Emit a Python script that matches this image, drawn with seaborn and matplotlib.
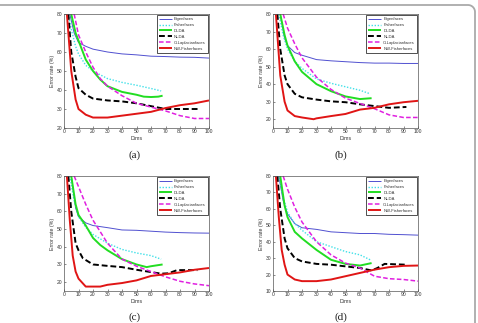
import numpy as np
import pandas as pd
import matplotlib
matplotlib.use("Agg")
import matplotlib.pyplot as plt
import seaborn as sns
from matplotlib.lines import Line2D

methods = ["Eigenfaces", "Fisherfaces", "DLDA", "NLDA", "O-Laplacianfaces", "NW-Fisherfaces"]
captions = ["(a)", "(b)", "(c)", "(d)"]
ylims = [(20, 80), (15, 80), (15, 80), (10, 80)]
yticks = [[20, 30, 40, 50, 60, 70, 80], [20, 30, 40, 50, 60, 70, 80],
          [20, 30, 40, 50, 60, 70, 80], [10, 20, 30, 40, 50, 60, 70, 80]]
xticks = [0, 10, 20, 30, 40, 50, 60, 70, 80, 90, 100]

# ---- panel (a)
a_eigen_x = [4, 7, 10, 15, 20, 30, 40, 50, 60, 70, 80, 90, 100]
a_eigen_y = [80, 70, 65, 63, 61.5, 60, 59, 58.5, 57.8, 57.6, 57.3, 57.2, 56.8]
a_fisher_x = [3, 5, 8, 10, 15, 20, 30, 40, 50, 60, 67]
a_fisher_y = [80, 72, 63, 59, 53, 50, 46, 44, 42.5, 40.8, 39.5]
a_dlda_x = [5, 8, 10, 15, 20, 25, 30, 40, 50, 55, 60, 65, 68]
a_dlda_y = [80, 70, 66, 56, 50, 45.5, 42, 39, 37.5, 36.5, 36.3, 36.5, 37]
a_nlda_x = [3, 5, 8, 10, 15, 20, 30, 40, 50, 60, 70, 80, 93]
a_nlda_y = [80, 60, 47, 41, 37.5, 35.5, 34.5, 34, 33, 31.5, 30, 30, 30]
a_olap_x = [7, 10, 15, 20, 25, 30, 40, 50, 60, 70, 80, 90, 100]
a_olap_y = [80, 69, 60, 52, 46, 42, 37, 33, 31, 29, 26.5, 25, 25]
a_nw_x = [2, 5, 8, 10, 15, 20, 25, 30, 40, 50, 60, 70, 80, 90, 100]
a_nw_y = [80, 50, 35, 30, 27, 25.5, 25.5, 25.5, 26.5, 27.5, 28.5, 30.5, 32, 33, 34.5]

# ---- panel (b)
b_eigen_x = [5, 8, 10, 15, 20, 30, 40, 50, 60, 70, 80, 90, 100]
b_eigen_y = [80, 66, 62, 58, 56.5, 54, 53.3, 52.8, 52.3, 52, 52, 51.8, 51.8]
b_fisher_x = [4, 7, 10, 15, 20, 30, 40, 50, 60, 67]
b_fisher_y = [80, 68, 60, 53, 49, 43, 40.5, 38.5, 36.5, 34.5]
b_dlda_x = [5, 8, 10, 15, 20, 30, 40, 50, 60, 68]
b_dlda_y = [80, 68, 62, 53, 47, 40, 36, 33, 31.5, 32]
b_nlda_x = [3, 5, 8, 10, 15, 20, 30, 40, 50, 60, 70, 80, 92]
b_nlda_y = [80, 60, 45, 40, 34.5, 32.5, 31.2, 30.2, 29.7, 28.5, 27.5, 26.5, 27]
b_olap_x = [7, 10, 15, 20, 30, 40, 50, 60, 70, 80, 90, 100]
b_olap_y = [80, 72, 63, 55, 44, 37, 32, 29, 26, 22.5, 21, 21]
b_nw_x = [2, 5, 8, 10, 15, 20, 28, 30, 40, 50, 60, 70, 80, 90, 100]
b_nw_y = [80, 45, 30, 25, 21.8, 21, 20, 20.5, 21.8, 23, 25.5, 26.5, 28.5, 29.7, 30.5]

# ---- panel (c)
c_eigen_x = [5, 8, 10, 15, 20, 30, 40, 50, 60, 70, 80, 90, 100]
c_eigen_y = [80, 62, 57, 53.5, 52, 50.8, 49.5, 49.3, 48.8, 48.3, 48, 47.8, 47.7]
c_fisher_x = [4, 7, 10, 15, 20, 30, 40, 50, 60, 67]
c_fisher_y = [80, 66, 57, 51, 47, 42, 38.5, 36.5, 35, 33]
c_dlda_x = [5, 8, 10, 15, 20, 25, 30, 40, 50, 57, 60, 68]
c_dlda_y = [80, 64, 58, 52, 45, 41, 38, 33, 30, 28.5, 29, 30]
c_nlda_x = [3, 5, 8, 10, 13, 20, 30, 40, 50, 60, 67, 72, 78, 92]
c_nlda_y = [80, 60, 42, 38, 33.5, 30, 29.2, 28.5, 27, 25.7, 24.8, 25, 26.8, 26.8]
c_olap_x = [7, 10, 15, 20, 30, 40, 50, 60, 70, 80, 90, 100]
c_olap_y = [80, 74, 64, 55, 42, 33, 29, 26, 23, 20.5, 19, 18]
c_nw_x = [2, 4, 6, 8, 10, 15, 20, 25, 30, 40, 50, 60, 70, 80, 90, 100]
c_nw_y = [80, 55, 35, 26, 22, 17.5, 17.5, 17.5, 18.5, 19.5, 21, 23.5, 24.5, 25.5, 27, 28]

# ---- panel (d)
d_eigen_x = [4, 7, 10, 15, 20, 30, 40, 50, 60, 70, 80, 90, 100]
d_eigen_y = [80, 65, 57, 51, 48.5, 47.5, 46, 45.5, 45, 45, 44.5, 44.3, 44]
d_fisher_x = [4, 7, 10, 15, 20, 30, 40, 50, 60, 67]
d_fisher_y = [80, 67, 58, 51, 47, 40, 37, 34, 32, 29]
d_dlda_x = [5, 8, 10, 15, 20, 30, 35, 40, 50, 60, 68]
d_dlda_y = [80, 62, 55, 46, 42, 35, 32, 29, 26.5, 25.5, 27]
d_nlda_x = [3, 5, 8, 10, 15, 20, 30, 40, 50, 60, 68, 72, 77, 92]
d_nlda_y = [80, 60, 42, 36, 30, 28, 26.5, 26, 25, 24, 22.5, 24, 26.5, 26]
d_olap_x = [7, 10, 15, 20, 30, 40, 50, 60, 70, 80, 90, 100]
d_olap_y = [80, 72, 61, 52, 40, 32, 27, 24, 19, 17.5, 17, 16]
d_nw_x = [2, 4, 6, 8, 10, 15, 20, 30, 40, 50, 60, 70, 80, 90, 100]
d_nw_y = [80, 55, 35, 26, 20, 17, 16, 16, 17, 19, 21, 23, 24.5, 25.3, 25.5]

panels = [
    [(a_eigen_x, a_eigen_y), (a_fisher_x, a_fisher_y), (a_dlda_x, a_dlda_y),
     (a_nlda_x, a_nlda_y), (a_olap_x, a_olap_y), (a_nw_x, a_nw_y)],
    [(b_eigen_x, b_eigen_y), (b_fisher_x, b_fisher_y), (b_dlda_x, b_dlda_y),
     (b_nlda_x, b_nlda_y), (b_olap_x, b_olap_y), (b_nw_x, b_nw_y)],
    [(c_eigen_x, c_eigen_y), (c_fisher_x, c_fisher_y), (c_dlda_x, c_dlda_y),
     (c_nlda_x, c_nlda_y), (c_olap_x, c_olap_y), (c_nw_x, c_nw_y)],
    [(d_eigen_x, d_eigen_y), (d_fisher_x, d_fisher_y), (d_dlda_x, d_dlda_y),
     (d_nlda_x, d_nlda_y), (d_olap_x, d_olap_y), (d_nw_x, d_nw_y)],
]

colors = ["#5050d0", "#40e0e8", "#22dd22", "#000000", "#e020e0", "#e01515"]
styles = [(0, ()), (0, (1, 1.2)), (0, ()), (0, (3, 1.5)), (0, (3, 1.5)), (0, ())]
widths = [0.7, 1.0, 1.4, 1.4, 1.1, 1.4]

sns.set_style("white")
plt.rcParams['font.family'] = ['Liberation Sans', 'DejaVu Sans']
fig = plt.figure(figsize=(4.78, 3.23), dpi=100)
W, H = 478.0, 323.0

boxes = [(64, 14, 209, 128), (273, 14, 418, 128), (64, 176, 209, 291), (273, 176, 418, 291)]
cap_pos = [(135, 155), (341, 155), (135, 317), (341, 317)]

for i, (l, t, r, b) in enumerate(boxes):
    ax = fig.add_axes([l / W, 1 - b / H, (r - l) / W, (b - t) / H])
    for j, (xs, ys) in enumerate(panels[i]):
        df = pd.DataFrame({"Dims": xs, "err": ys})
        sns.lineplot(data=df, x="Dims", y="err", ax=ax, color=colors[j],
                     linestyle=styles[j], linewidth=widths[j], label=methods[j])
    ax.set_xlim(0, 100)
    ax.set_ylim(*ylims[i])
    ax.set_xticks(xticks)
    ax.set_yticks(yticks[i])
    ax.tick_params(direction="in", length=1.5, width=0.4, labelsize=3.6, pad=1,
                   top=False, right=False, bottom=True, left=True, colors="#333333")
    for s in ax.spines.values():
        s.set_linewidth(0.5)
        s.set_color("#555555")
    ax.set_xlabel("Dims", fontsize=3.8, labelpad=1, color="#333333")
    ax.set_ylabel("Error rate (%)", fontsize=3.8, labelpad=1, color="#333333")
    leg = ax.legend(loc="upper right", fontsize=3.0, frameon=True, fancybox=False,
                    handlelength=3.2, handletextpad=0.5, borderpad=0.5,
                    labelspacing=0.45, borderaxespad=0.25)
    leg.get_frame().set_edgecolor("#000000")
    leg.get_frame().set_linewidth(0.6)
    for txt in leg.get_texts():
        txt.set_color("#333333")
    fig.text(cap_pos[i][0] / W, 1 - cap_pos[i][1] / H, captions[i],
             family="Liberation Serif", fontsize=8, ha="center", va="center", color="#222222")

# outer rounded frame (decorative)
rad = 7.0
xs_f = [0, 475 - rad]
ys_f = [5, 5]
for ang in np.linspace(90, 0, 12):
    xs_f.append(475 - rad + rad * np.cos(np.radians(ang)))
    ys_f.append(5 + rad - rad * np.sin(np.radians(ang)))
xs_f += [475, 475]
ys_f += [5 + rad, 323]
fig.add_artist(Line2D([x / W for x in xs_f], [1 - y / H for y in ys_f],
                      transform=fig.transFigure, color="#aaaaaa", linewidth=1.3))

fig.savefig("out.png", dpi=100)
